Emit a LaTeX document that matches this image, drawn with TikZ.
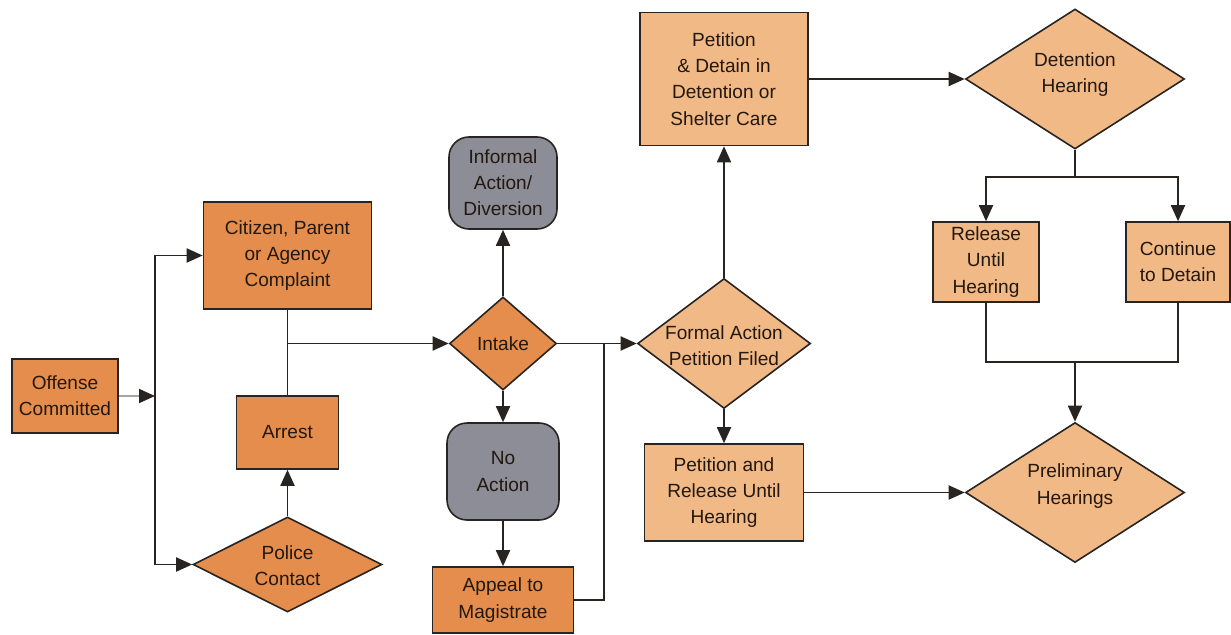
\documentclass[tikz,border=0pt]{standalone}
\usepackage{fontspec}
\setmainfont{Liberation Sans}
\usetikzlibrary{shapes.geometric,arrows.meta}
\definecolor{dorange}{RGB}{229,141,76}
\definecolor{lorange}{RGB}{241,185,134}
\definecolor{grayfill}{RGB}{140,141,150}
\definecolor{edge}{RGB}{40,36,34}
\definecolor{txt}{RGB}{35,24,16}
\tikzset{
  base/.style={draw=edge, line width=1.2pt, text=txt, align=center, inner sep=0pt,
    font=\fontsize{14.3}{19.6}\selectfont},
  dbox/.style={base, rectangle, fill=dorange},
  lbox/.style={base, rectangle, fill=lorange},
  gshape/.style={base, rectangle, rounded corners=15pt, fill=grayfill},
  ddia/.style={base, diamond, fill=dorange},
  ldia/.style={base, diamond, fill=lorange},
  lbl/.style={text=txt, align=center, inner sep=0pt, font=\fontsize{14.3}{19.6}\selectfont},
  conn/.style={draw=edge, line width=1.4pt},
  arr/.style={conn, -{Triangle[length=12pt,width=10.5pt]}},
}
\begin{document}
\begin{tikzpicture}[x=0.75pt,y=-0.75pt]
\useasboundingbox (0,0) rectangle (1231,635);
% boxes
\node[dbox, minimum width=79.5pt, minimum height=55.5pt] (off) at (65,396) {Offense\\Committed};
\node[dbox, minimum width=126pt, minimum height=80.25pt] (cit) at (287.5,255.5) {Citizen, Parent\\or Agency\\Complaint};
\node[dbox, minimum width=76.5pt, minimum height=54.75pt] (arr) at (287.5,432.5) {Arrest};
\node[ddia, minimum width=141.75pt, minimum height=71.25pt] (pol) at (287.5,564.5) {};
\node[lbl] (poltxt) at (287.5,565.5) {Police\\Contact};
\node[ddia, minimum width=80.25pt, minimum height=69.75pt] (intake) at (503,343.5) {};
\node[lbl] (intaketxt) at (503,344) {Intake};
\node[gshape, minimum width=81pt, minimum height=69pt] (inf) at (503,183) {Informal\\Action/\\Diversion};
\node[gshape, minimum width=84pt, minimum height=72.75pt] (noa) at (503,471.5) {No\\Action};
\node[dbox, minimum width=105.75pt, minimum height=49.5pt] (app) at (503,600) {Appeal to\\Magistrate};
\node[ldia, minimum width=129.75pt, minimum height=97.5pt] (formal) at (724,343.5) {};
\node[lbl] (formaltxt) at (724,346) {Formal Action\\Petition Filed};
\node[lbox, minimum width=126pt, minimum height=99.75pt] (pd) at (724,79) {Petition\\\&~Detain in\\Detention or\\Shelter Care};
\node[lbox, minimum width=119.25pt, minimum height=72.75pt] (pr) at (724,492.5) {Petition and\\Release Until\\Hearing};
\node[ldia, minimum width=164.25pt, minimum height=105pt] (det) at (1075,79) {};
\node[lbl] (dettxt) at (1075,75) {Detention\\Hearing};
\node[lbox, minimum width=79.5pt, minimum height=60pt] (rel) at (986,262) {Release\\Until\\Hearing};
\node[lbox, minimum width=78pt, minimum height=60pt] (cont) at (1178,262) {Continue\\to Detain};
\node[ldia, minimum width=164.25pt, minimum height=105pt] (prelim) at (1075,492.5) {};
\node[lbl] (prelimtxt) at (1075,486) {Preliminary\\Hearings};
% junctions
\coordinate (j1) at (155,396);
\coordinate (j2) at (287.5,343.5);
\coordinate (j3) at (604,343.5);
\coordinate (j4) at (1075,177);
\coordinate (j5) at (1075,362);
% connectors
\draw[conn, draw=gray!70, -{Triangle[length=12pt,width=10.5pt,color=edge]}] (off) -- (j1);
\draw[arr] (j1) |- (cit.west);
\draw[arr] (j1) |- (pol.west);
\draw[arr] (pol.north) -- (arr.south);
\draw[conn] (arr.north) -- (cit.south);
\draw[arr] (j2) -- (intake.west);
\draw[arr] (intake.north) -- (inf.south);
\draw[arr] (intake.south) -- (noa.north);
\draw[arr] (noa.south) -- (app.north);
\draw[arr] (intake.east) -- (formal.west);
\draw[conn] (app.east) -| (j3);
\draw[arr] (formal.north) -- (pd.south);
\draw[arr] (formal.south) -- (pr.north);
\draw[arr] (pd.east) -- (det.west);
\draw[arr] (pr.east) -- (prelim.west);
\draw[conn] (det.south) -- (j4);
\draw[arr] (j4) -| (rel.north);
\draw[arr] (j4) -| (cont.north);
\draw[conn] (rel.south) |- (j5);
\draw[conn] (cont.south) |- (j5);
\draw[arr] (j5) -- (prelim.north);
\end{tikzpicture}
\end{document}
